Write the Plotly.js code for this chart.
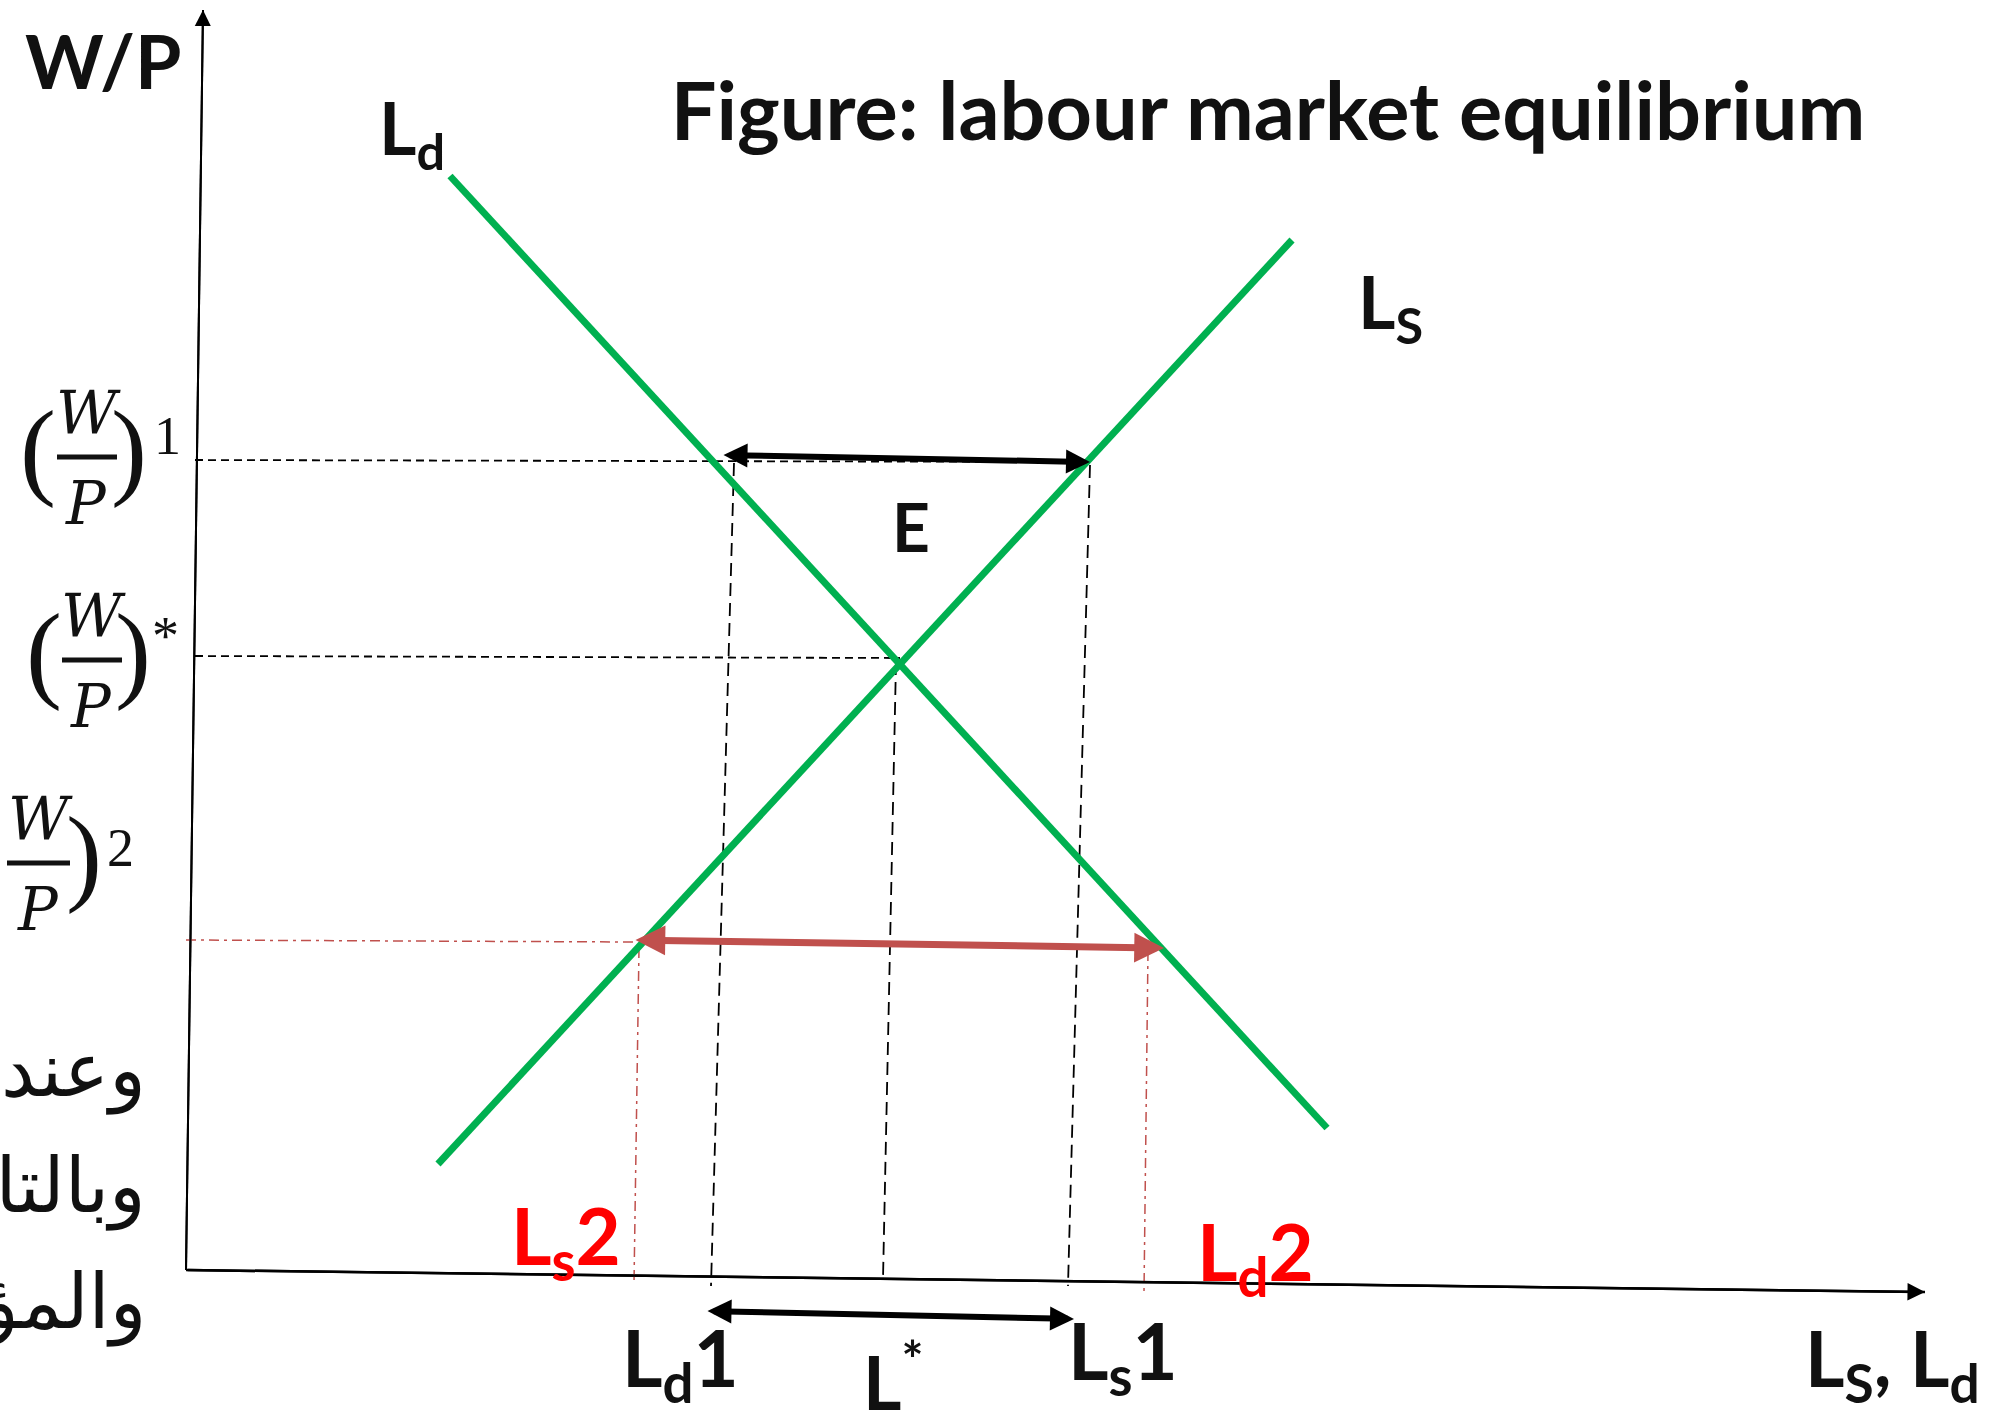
<!DOCTYPE html>
<html><head><meta charset="utf-8">
<script src="https://cdn.plot.ly/plotly-3.0.1.min.js"></script>
<style>html,body{margin:0;padding:0;background:#fff;overflow:hidden}</style>
</head><body><div id="chart" style="width:2016px;height:1421px"></div>
<script>
// ---- data (units: L horizontally, W/P vertically) ----
const yAxisX = [0, 0.17],  yAxisY = [0, 12.60];
const xAxisX = [0, 17.39], xAxisY = [0, -0.22];
const demandX = [2.64, 11.41], demandY = [10.94, 1.42];   // Ld
const supplyX = [2.52, 11.06], supplyY = [1.06, 10.30];   // Ls
const wage1X = [0.09, 9.04], wage1Y = [8.10, 8.08];       // (W/P)^1
const wageStarX = [0.09, 7.14], wageStarY = [6.14, 6.12]; // (W/P)*
const wage2X = [0.00, 4.48], wage2Y = [3.30, 3.28];       // (W/P)^2
const ld1X = [5.48, 5.25], ld1Y = [8.07, -0.16];
const ls1X = [9.04, 8.82], ls1Y = [8.05, -0.16];
const lStarX = [7.10, 6.97], lStarY = [6.08, -0.09];
const ls2X = [4.53, 4.48], ls2Y = [3.22, -0.13];
const ld2X = [9.62, 9.58], ld2Y = [3.19, -0.22];
const surplusX = [5.36, 9.04], surplusY = [8.15, 8.08];   // black arrow at (W/P)^1
const shortageX = [4.48, 9.78], shortageY = [3.30, 3.22]; // red arrow at (W/P)^2
const gapX = [5.20, 8.88], gapY = [-0.41, -0.49];         // black arrow under the axis
const wageTickSup = ['1', '*', '2'];
const arabicLines = ['وعند', 'وبالتالي', 'والمؤسسات'];

// ---- styling / helpers ----
const GREEN = '#00B050', RED_LINE = '#C0504D', RED_TXT = '#FF0000', INK = '#111111';
const SANS = 'Lato, "Open Sans", sans-serif';
const SERIF = '"DejaVu Serif", "Liberation Serif", serif';
const PAREN = '"Liberation Serif", "DejaVu Serif", serif';
const X = p => (p - 186) / 100;   // page pixel -> data (layout positions only)
const Y = p => (1270 - p) / 100;

function line(xs, ys, color, width, dash) {
  return {x: xs, y: ys, type: 'scatter', mode: 'lines', hoverinfo: 'skip',
          line: {color: color, width: width, dash: dash || 'solid'}};
}
function arrow(xs, ys, color, width, head, size, both) {
  return {x: xs[1], y: ys[1], ax: xs[0], ay: ys[0], xref: 'x', yref: 'y', axref: 'x', ayref: 'y',
          text: '', showarrow: true, arrowhead: head, arrowsize: size, arrowwidth: width,
          arrowcolor: color, arrowside: both ? 'end+start' : 'end', startarrowhead: head,
          startarrowsize: size, standoff: 0, startstandoff: 0};
}
function label(text, px, py, size, color, family, weight) {
  return {x: X(px), y: Y(py), xref: 'x', yref: 'y', text: text, showarrow: false,
          xanchor: 'center', yanchor: 'middle',
          font: {family: family || SANS, size: size, color: color || INK, weight: weight || 700}};
}

const traces = [
  line(yAxisX, yAxisY, '#000', 2),
  line(xAxisX, xAxisY, '#000', 2.5),
  line(wage1X, wage1Y, '#000', 1.8, '8px,5px'),
  line(wageStarX, wageStarY, '#000', 1.8, '8px,5px'),
  line(ld1X, ld1Y, '#000', 1.8, '13px,7px'),
  line(ls1X, ls1Y, '#000', 1.8, '13px,7px'),
  line(lStarX, lStarY, '#000', 1.8, '13px,7px'),
  line(wage2X, wage2Y, RED_LINE, 1.5, '10px,5px,3px,5px'),
  line(ls2X, ls2Y, RED_LINE, 1.5, '10px,5px,3px,5px'),
  line(ld2X, ld2Y, RED_LINE, 1.5, '10px,5px,3px,5px'),
  line(demandX, demandY, GREEN, 7),
  line(supplyX, supplyY, GREEN, 7)
];

const annotations = [
  arrow(yAxisX, yAxisY, '#000', 2, 2, 1.6, false),
  arrow(xAxisX, xAxisY, '#000', 2.5, 2, 1.4, false),
  arrow(surplusX, surplusY, '#000', 6, 2, 0.8, true),
  arrow(shortageX, shortageY, RED_LINE, 7, 2, 0.85, true),
  arrow(gapX, gapY, '#000', 6, 2, 0.8, true),

  label('W/P', 103, 60, 75),
  label('L<sub>d</sub>', 412, 132, 72),
  label('L<sub>S</sub>', 1390, 306, 72),
  label('E', 911, 526, 66),
  label('L<sub>s</sub>2', 566, 1240, 78, RED_TXT),
  label('L<sub>d</sub>2', 1255, 1256, 78, RED_TXT),
  label('L<sub>d</sub>1', 680, 1362, 78),
  label('L<sub>s</sub>1', 1123, 1355, 78),
  label('L<sup>*</sup>', 893, 1377, 74),
  label('L<sub>S</sub>, L<sub>d</sub>', 1892, 1363, 76)
];

// y-axis wage labels built as (W over P) with superscript
const tickParts = [
  {lp: 38, rp: 129, w: 88, p: 86, bar: [57, 117], cy: 457, sup: [167, 436]},
  {lp: 44, rp: 133, w: 93, p: 91, bar: [62, 122], cy: 660, sup: [165, 636]},
  {lp: -4, rp: 84, w: 40, p: 38, bar: [7, 70], cy: 863, sup: [120, 848]}
];
const shapes = [];
tickParts.forEach((t, i) => {
  annotations.push(label('<i>W</i>', t.w, t.cy - 44, 59, INK, SERIF, 400));
  annotations.push(label('<i>P</i>', t.p, t.cy + 46, 59, INK, SERIF, 400));
  annotations.push(label('(', t.lp, t.cy - 8, 108, INK, PAREN, 400));
  annotations.push(label(')', t.rp, t.cy - 8, 108, INK, PAREN, 400));
  annotations.push(label(wageTickSup[i], t.sup[0], t.sup[1], 54, INK, PAREN, 400));
  shapes.push({type: 'line', xref: 'x', yref: 'y', x0: X(t.bar[0]), x1: X(t.bar[1]),
               y0: Y(t.cy), y1: Y(t.cy), line: {color: INK, width: 5}});
});

// Arabic text at the left edge (cut by the page edge, as in the source)
[1070, 1186, 1302].forEach((py, i) => {
  annotations.push({x: X(148), y: Y(py), xref: 'x', yref: 'y', text: arabicLines[i], showarrow: false,
    xanchor: 'right', yanchor: 'middle', font: {family: '"DejaVu Sans", sans-serif', size: 76, color: INK}});
});

const layout = {
  width: 2016, height: 1421,
  margin: {l: 0, r: 0, t: 0, b: 0, pad: 0},
  paper_bgcolor: '#ffffff', plot_bgcolor: '#ffffff',
  showlegend: false,
  title: {text: 'Figure: labour market equilibrium', x: 1268 / 2016, xanchor: 'center',
          y: 1 - 112 / 1421, yanchor: 'middle', xref: 'paper', yref: 'container',
          font: {family: SANS, size: 81, color: INK, weight: 700}},
  xaxis: {range: [-1.86, 18.30], visible: false, fixedrange: true},
  yaxis: {range: [-1.51, 12.70], visible: false, fixedrange: true},
  annotations: annotations,
  shapes: shapes
};

Plotly.newPlot('chart', traces, layout, {displayModeBar: false, staticPlot: true});
</script></body></html>
